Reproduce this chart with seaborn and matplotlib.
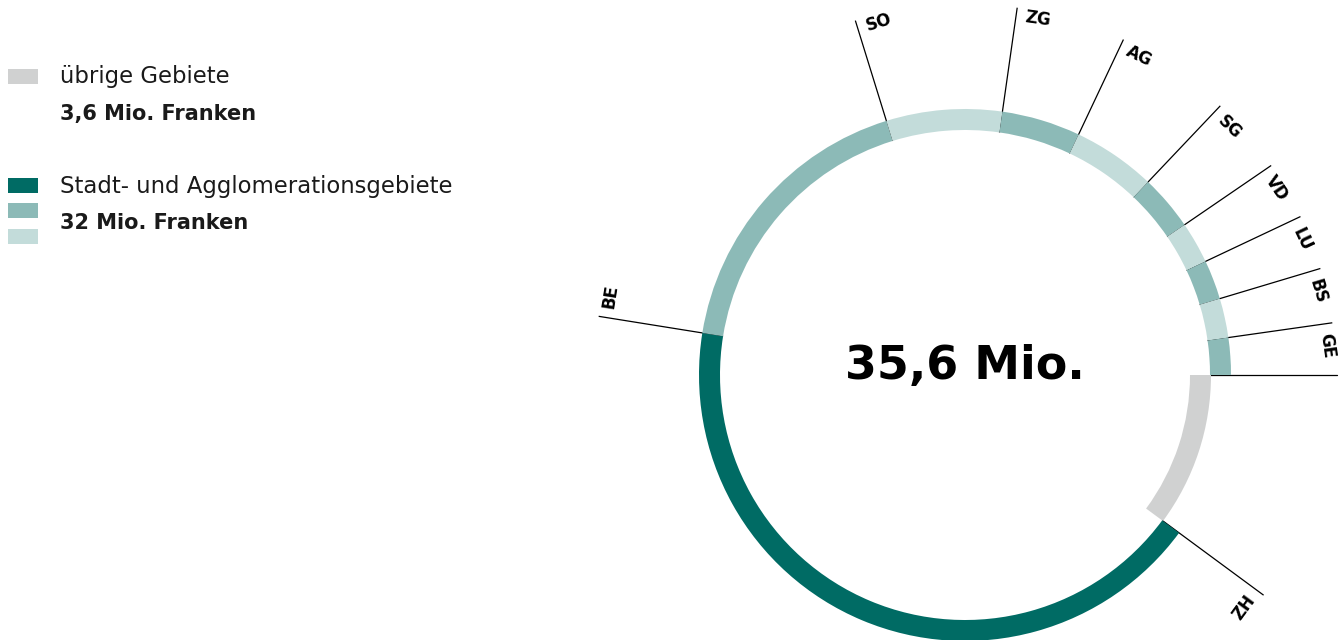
import numpy as np
import matplotlib
matplotlib.use("Agg")
import matplotlib.pyplot as plt
import seaborn as sns

# ---- data ----
regions = ["übrige", "ZH", "BE", "SO", "ZG", "AG", "SG", "VD", "LU", "BS", "GE"]
values = [3.6, 15.1, 6.3, 2.5, 1.7, 1.8, 1.2, 0.9, 0.85, 0.85, 0.8]
shade = ["grey", "dark", "mid", "light", "mid", "light", "mid", "light", "mid", "light", "mid"]
total_label = "35,6 Mio."
legend_other = ["übrige Gebiete", "3,6 Mio. Franken"]
legend_urban = ["Stadt- und Agglomerationsgebiete", "32 Mio. Franken"]

palette = {"grey": "#D0D1D1", "dark": "#006B64", "mid": "#8CBAB7", "light": "#C3DCDA"}

sns.set_style("white")
plt.rcParams["font.family"] = ["DejaVu Sans"]

W, H = 1343, 640
fig = plt.figure(figsize=(W / 100, H / 100), dpi=100)
ax = fig.add_axes([0, 0, 1, 1])

cx, cy = 965, H - 375
R, width = 266, 21

wedges, _ = ax.pie(values, colors=[palette[s] for s in shade], startangle=0,
                   counterclock=False, radius=R, center=(cx, cy),
                   wedgeprops=dict(width=width, edgecolor="none", linewidth=0),
                   frame=True)
# "übrige Gebiete" sits just inside the ring
wedges[0].set_radius(R - width + 1)
wedges[0].set_width(width)
for w in wedges:
    w.set_zorder(3)

tot = sum(values)
cum = np.cumsum([0] + values)
angles = -cum / tot * 360.0  # boundary angles, clockwise from east

r0, r1, rl = R - width, 371, 363
for i, name in enumerate(regions):
    a = ((angles[i] + 180.0) % 360.0) - 180.0
    t = np.deg2rad(a)
    if i > 0:
        ax.plot([cx + r0 * np.cos(t), cx + r1 * np.cos(t)],
                [cy + r0 * np.sin(t), cy + r1 * np.sin(t)],
                color="black", lw=0.9, zorder=1, solid_capstyle="butt")
        la = np.deg2rad(a - 3.4)
        rot = a - 90
        if rot < -90:
            rot += 180
        ax.text(cx + rl * np.cos(la), cy + rl * np.sin(la), name,
                rotation=rot, rotation_mode="anchor", ha="center", va="center",
                fontsize=12, fontweight="bold", color="black")
# closing line at the start (east)
t = np.deg2rad(angles[-1])
ax.plot([cx + (R - width) * np.cos(t), cx + 372 * np.cos(t)],
        [cy + (R - width) * np.sin(t), cy + 372 * np.sin(t)],
        color="black", lw=0.9, zorder=1)

ax.text(cx, H - 367, total_label, ha="center", va="center",
        fontsize=33, fontweight="bold", color="black")

# legend
def sq(y, c):
    ax.add_patch(plt.Rectangle((8, H - y - 15), 30, 15, color=c, lw=0))

sq(69, palette["grey"])
ax.text(60, H - 76, legend_other[0], fontsize=16.4, va="center", color="#1a1a1a")
ax.text(60, H - 114, legend_other[1], fontsize=15, va="center", fontweight="bold", color="#1a1a1a")
sq(178, palette["dark"])
sq(203, palette["mid"])
sq(229, palette["light"])
ax.text(60, H - 186, legend_urban[0], fontsize=16.4, va="center", color="#1a1a1a")
ax.text(60, H - 223, legend_urban[1], fontsize=15, va="center", fontweight="bold", color="#1a1a1a")

ax.set_xlim(0, W)
ax.set_ylim(0, H)
ax.set_aspect("auto")
ax.axis("off")
fig.savefig("out.png", dpi=100)
